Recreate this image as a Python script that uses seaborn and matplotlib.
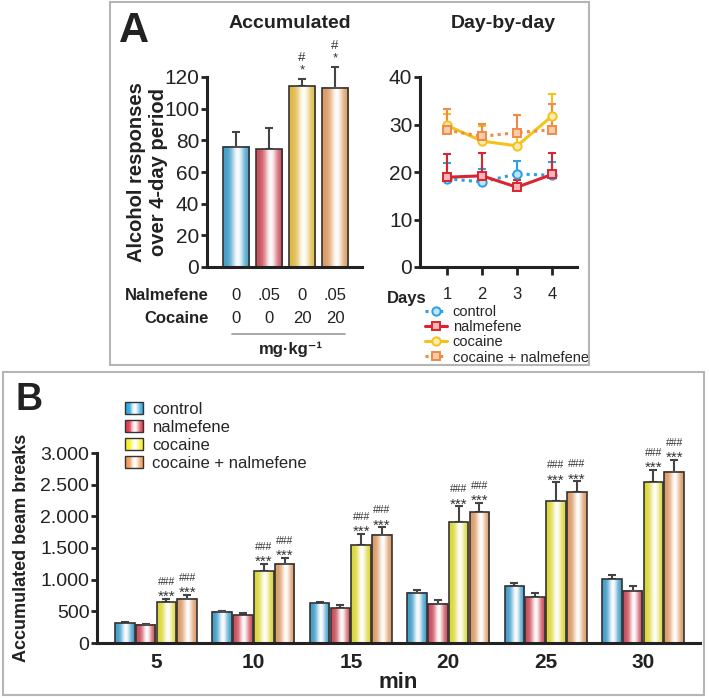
import numpy as np
import pandas as pd
import matplotlib
matplotlib.use('Agg')
import matplotlib.pyplot as plt
from matplotlib.patches import Rectangle
from matplotlib.lines import Line2D
from matplotlib.legend_handler import HandlerBase
from matplotlib.ticker import FuncFormatter
from matplotlib.colors import to_rgb
import seaborn as sns

sns.set_theme(style='ticks')
plt.rcParams['font.family'] = ['Liberation Sans', 'DejaVu Sans']

W, H = 709, 698

groups = ['control', 'nalmefene', 'cocaine', 'cocaine + nalmefene']

# panel A, accumulated alcohol responses
acc_mean = [76.0, 74.5, 114.3, 113.3]
acc_sem = [9.5, 13.2, 4.4, 13.0]
acc_marks = ['', '', '#\n*', '#\n*']
nalmefene_dose = ['0', '.05', '0', '.05']
cocaine_dose = ['0', '0', '20', '20']

# panel A, day by day
days = [1, 2, 3, 4]
day_control = [18.6, 17.9, 19.6, 19.3]
day_control_sem = [3.3, 2.8, 2.7, 2.9]
day_nalmefene = [18.9, 19.2, 16.8, 19.5]
day_nalmefene_sem = [4.8, 4.7, 1.6, 4.5]
day_cocaine = [29.8, 26.5, 25.5, 31.8]
day_cocaine_sem = [2.5, 3.2, 2.0, 4.6]
day_cocnal = [28.8, 27.5, 28.3, 28.9]
day_cocnal_sem = [4.4, 2.7, 3.6, 5.5]

# panel B, accumulated beam breaks
minutes = [5, 10, 15, 20, 25, 30]
beam_control = [310, 495, 630, 790, 895, 1010]
beam_control_sem = [16, 15, 25, 50, 60, 60]
beam_nalmefene = [285, 442, 547, 616, 721, 826]
beam_nalmefene_sem = [20, 37, 53, 68, 69, 79]
beam_cocaine = [645, 1130, 1540, 1905, 2237, 2542]
beam_cocaine_sem = [55, 120, 180, 253, 300, 195]
beam_cocnal = [697, 1250, 1710, 2068, 2384, 2705]
beam_cocnal_sem = [58, 90, 116, 142, 169, 190]
beam_stars = ['', '', '***', '***']
beam_hashes = ['', '', '###', '###']

pal_a = {'control': '#2BA6E0', 'nalmefene': '#E03A4C',
         'cocaine': '#F8C52C', 'cocaine + nalmefene': '#F0994E'}
pal_b = {'control': '#2BA6E0', 'nalmefene': '#E03A4C',
         'cocaine': '#F6F020', 'cocaine + nalmefene': '#F09A55'}
ink = '#222222'


def fx(x):
    return x / W


def fy(y):
    return 1 - y / H


def rect(l, t, r, b):
    return [l / W, 1 - b / H, (r - l) / W, (b - t) / H]


def grad_rgb(color, n=64):
    c = np.array(to_rgb(color))
    t = np.linspace(0, 1, n)
    w = 0.97 * np.exp(-((t - 0.55) / 0.24) ** 2)
    return c[None, :] * (1 - w[:, None]) + w[:, None]


def shade_bars(ax):
    # white highlight down the middle of each bar
    for p in ax.patches:
        x, y, w, h = p.get_x(), p.get_y(), p.get_width(), p.get_height()
        img = grad_rgb(p.get_facecolor())[None, :, :]
        ax.imshow(img, extent=[x, x + w, y, y + h], aspect='auto',
                  interpolation='bilinear', zorder=p.get_zorder() + 0.01)
        p.set_facecolor('none')
        p.set_zorder(p.get_zorder() + 0.02)


class GradientHandler(HandlerBase):
    def create_artists(self, legend, orig_handle, xdescent, ydescent,
                       width, height, fontsize, trans):
        cols = grad_rgb(orig_handle.get_facecolor(), 20)
        arts = []
        for i, c in enumerate(cols):
            arts.append(Rectangle((-xdescent + i * width / 20, -ydescent),
                                  width / 20 + 0.3, height, facecolor=c,
                                  edgecolor='none', transform=trans))
        arts.append(Rectangle((-xdescent, -ydescent), width, height,
                              facecolor='none', edgecolor='#333333',
                              lw=1.0, transform=trans))
        return arts


def style_axes(ax):
    sns.despine(ax=ax)
    for s in ['left', 'bottom']:
        ax.spines[s].set_linewidth(2.2)
        ax.spines[s].set_color(ink)
    ax.tick_params(width=2, color=ink, labelcolor=ink, direction='out')
    ax.set_facecolor('none')


fig = plt.figure(figsize=(W / 100, H / 100), dpi=100)

# panel frames
for x0, y0, x1, y1 in [(110, 2, 589, 365), (3, 372, 704, 695)]:
    fig.add_artist(Rectangle((fx(x0), fy(y1)), (x1 - x0) / W, (y1 - y0) / H,
                             transform=fig.transFigure, fill=False,
                             edgecolor='#B5B5B5', lw=1.5))

# ---- A: accumulated
ax1 = fig.add_axes(rect(207, 77, 362, 267))
df_acc = pd.DataFrame({'group': groups, 'value': acc_mean, 'sem': acc_sem})
sns.barplot(data=df_acc, x='group', y='value', hue='group', palette=pal_a,
            width=0.8, edgecolor='#333333', linewidth=1.2, errorbar=None,
            legend=False, ax=ax1)
shade_bars(ax1)
bars = sorted(ax1.patches, key=lambda p: p.get_x())
xs = [p.get_x() + p.get_width() / 2 for p in bars]
eb = ax1.errorbar(xs, df_acc['value'], yerr=[np.zeros(len(xs)), df_acc['sem']],
                  fmt='none', ecolor='#444444', elinewidth=1.5, capsize=3,
                  capthick=1.5, zorder=0.9)
for art in eb.lines[1] + eb.lines[2]:
    art.set_clip_on(False)
for x, v, s, m in zip(xs, acc_mean, acc_sem, acc_marks):
    if m:
        ax1.annotate(m, (x, v + s), xytext=(0, 2), textcoords='offset points',
                     ha='center', va='bottom', fontsize=9.5, color='#333333',
                     linespacing=1.0, annotation_clip=False)
style_axes(ax1)
ax1.set_xlim(-0.88, 3.82)
ax1.set_ylim(0, 120)
ax1.set_yticks(range(0, 121, 20))
ax1.tick_params(axis='y', labelsize=15, length=4, pad=1.5)
ax1.tick_params(axis='x', length=0, labelbottom=False)
ax1.set_xlabel('')
ax1.set_ylabel('Alcohol responses\nover 4-day period', fontsize=14.5,
               weight='bold', va='center', color=ink)
ax1.yaxis.set_label_coords((147 - 207) / 155, 0.5)

tr = ax1.get_xaxis_transform()
for x, n, c in zip(xs, nalmefene_dose, cocaine_dose):
    ax1.text(x, (267 - 300) / 190, n, transform=tr, ha='center',
             va='baseline', fontsize=12, color=ink)
    ax1.text(x, (267 - 323) / 190, c, transform=tr, ha='center',
             va='baseline', fontsize=12, color=ink)
fig.text(fx(209), fy(300), 'Nalmefene', ha='right', va='baseline',
         fontsize=12, weight='bold', color=ink)
fig.text(fx(209), fy(323), 'Cocaine', ha='right', va='baseline',
         fontsize=12, weight='bold', color=ink)
fig.add_artist(Line2D([fx(232), fx(345)], [fy(334), fy(334)],
                      color='#999999', lw=1.2))
fig.text(fx(291), fy(354), 'mg·kg⁻¹', ha='center', va='baseline',
         fontsize=12, weight='bold', color=ink)

fig.text(fx(119), fy(42), 'A', ha='left', va='baseline', fontsize=30,
         weight='bold', color=ink)
fig.text(fx(289.5), fy(28), 'Accumulated', ha='center', va='baseline',
         fontsize=14, weight='bold', color=ink)
fig.text(fx(503), fy(28), 'Day-by-day', ha='center', va='baseline',
         fontsize=14, weight='bold', color=ink)

# ---- A: day by day
ax2 = fig.add_axes(rect(420, 77, 577, 267))
dotted = (0, (1.0, 1.4))
specs = [
    (day_control, day_control_sem, '#2E9FE0', 'o', dotted, '#BFE3F7'),
    (day_nalmefene, day_nalmefene_sem, '#D9252F', 's', '-', '#F7B5BA'),
    (day_cocaine, day_cocaine_sem, '#F5C21A', 'o', '-', '#FCEBB0'),
    (day_cocnal, day_cocnal_sem, '#F08A45', 's', dotted, '#F9CBAA'),
]
handles = []
for vals, sem, col, mk, ls, face in specs:
    ax2.errorbar(days, vals, yerr=[np.zeros(len(days)), sem], fmt='none',
                 ecolor=col, elinewidth=1.5, capsize=3, capthick=1.5, zorder=2)
    sns.lineplot(x=days, y=vals, color=col, marker=mk, linestyle=ls, lw=2.2,
                 markersize=6, markerfacecolor=face, markeredgecolor=col,
                 markeredgewidth=1.4, legend=False, ax=ax2, zorder=3)
    handles.append(ax2.lines[-1])
style_axes(ax2)
ax2.set_xlim(0.23, 4.71)
ax2.set_ylim(0, 40)
ax2.set_yticks([0, 10, 20, 30, 40])
ax2.set_xticks(days)
ax2.tick_params(axis='y', labelsize=15, length=4, pad=1.5)
ax2.tick_params(axis='x', labelsize=12, length=5.5, pad=9)
fig.text(fx(407), fy(303), 'Days', ha='center', va='baseline', fontsize=12,
         weight='bold', color=ink)
ax2.legend(handles, groups, loc='upper left',
           bbox_to_anchor=(fx(425), fy(305)), bbox_transform=fig.transFigure,
           frameon=False, fontsize=10.5, handlelength=1.5, handletextpad=0.4,
           labelspacing=0.08, borderpad=0, borderaxespad=0)

# ---- B: beam breaks
ax3 = fig.add_axes(rect(97, 453, 700, 643))
rows = []
for g, vals, sems in zip(groups,
                         [beam_control, beam_nalmefene, beam_cocaine, beam_cocnal],
                         [beam_control_sem, beam_nalmefene_sem,
                          beam_cocaine_sem, beam_cocnal_sem]):
    for m, v, s in zip(minutes, vals, sems):
        rows.append((m, g, v, s))
df_beam = pd.DataFrame(rows, columns=['minute', 'group', 'value', 'sem'])
sns.barplot(data=df_beam, x='minute', y='value', hue='group',
            hue_order=groups, palette=pal_b, width=0.855, gap=0.06,
            edgecolor='#333333', linewidth=1.2, errorbar=None, legend=False,
            ax=ax3)
shade_bars(ax3)
df_beam['gi'] = df_beam['group'].map({g: i for i, g in enumerate(groups)})
df_beam = df_beam.sort_values(['minute', 'gi']).reset_index(drop=True)
bars = sorted(ax3.patches, key=lambda p: p.get_x())
xs = [p.get_x() + p.get_width() / 2 for p in bars]
ax3.errorbar(xs, df_beam['value'], yerr=[np.zeros(len(xs)), df_beam['sem']],
             fmt='none', ecolor='#444444', elinewidth=1.5, capsize=3,
             capthick=1.5, zorder=0.9)
for x, (_, r) in zip(xs, df_beam.iterrows()):
    top = r['value'] + r['sem']
    if beam_stars[r['gi']]:
        ax3.annotate(beam_stars[r['gi']], (x, top), xytext=(0, -1.5),
                     textcoords='offset points', ha='center', va='baseline',
                     fontsize=11, color='#333333', annotation_clip=False)
        ax3.annotate(beam_hashes[r['gi']], (x, top), xytext=(0, 10),
                     textcoords='offset points', ha='center', va='baseline',
                     fontsize=7.5, color='#333333', annotation_clip=False)
style_axes(ax3)
ax3.set_xlim(-0.606, 5.585)
ax3.set_ylim(0, 3000)
ax3.set_yticks(range(0, 3001, 500))
ax3.yaxis.set_major_formatter(FuncFormatter(lambda v, _: f'{v:,.0f}'.replace(',', '.')))
ax3.tick_params(axis='y', labelsize=14, length=4, pad=1.5)
ax3.tick_params(axis='x', labelsize=15, length=0, pad=7)
for lab in ax3.get_xticklabels():
    lab.set_fontweight('bold')
ax3.set_xlabel('min', fontsize=16, weight='bold', color=ink)
ax3.xaxis.set_label_coords(0.5, (643 - 671.5) / 190)
ax3.set_ylabel('Accumulated beam breaks', fontsize=13, weight='bold',
               va='center', color=ink)
ax3.yaxis.set_label_coords((22 - 97) / 603, 0.5)
leg_handles = [Rectangle((0, 0), 1, 1, facecolor=pal_b[g]) for g in groups]
ax3.legend(leg_handles, groups, loc='upper left',
           bbox_to_anchor=(fx(125), fy(402)), bbox_transform=fig.transFigure,
           handler_map={Rectangle: GradientHandler()}, frameon=False,
           fontsize=12, handlelength=1.1, handleheight=0.7,
           handletextpad=0.55, labelspacing=0.17, borderpad=0, borderaxespad=0)
fig.text(fx(15), fy(410), 'B', ha='left', va='baseline', fontsize=27,
         weight='bold', color=ink)

fig.savefig('out.png', dpi=100)
